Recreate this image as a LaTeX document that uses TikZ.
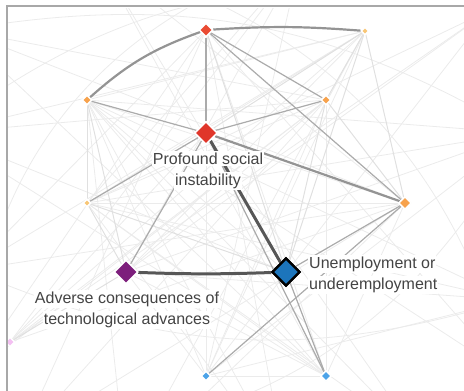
\documentclass[tikz,border=0pt]{standalone}
\usepackage{fontspec}
\setmainfont{Liberation Sans}
\usetikzlibrary{shapes.geometric}
\definecolor{redA}{HTML}{EA4B33}
\definecolor{redE}{HTML}{E0362A}
\definecolor{orng}{HTML}{F7A24C}
\definecolor{pale}{HTML}{F8C675}
\definecolor{purp}{HTML}{7D1F7C}
\definecolor{blueI}{HTML}{1C75BC}
\definecolor{blueS}{HTML}{4CA3E8}
\definecolor{pinkL}{HTML}{F4C0F2}
\definecolor{txt}{HTML}{444444}
\definecolor{frm}{HTML}{A8A8A8}
\tikzset{
  dia/.style={diamond, aspect=1, inner sep=0pt, minimum width=#1, minimum height=#1, draw=white, line width=1.4pt},
  faint/.style={draw=black!8, line width=0.8pt},
  light/.style={draw=black!12, line width=1pt},
  thinE/.style={draw=black!33, line width=1.2pt},
  midE/.style={draw=black!42, line width=2.2pt},
  darkE/.style={draw=black!66, line width=3pt},
  lbl/.style={text=txt, font=\fontsize{16}{20}\selectfont, fill=white, inner xsep=1pt, inner ysep=1.5pt},
}
\begin{document}
\begin{tikzpicture}[x=1pt,y=-1pt]
\useasboundingbox (0,0) rectangle (464,391);
% off-screen anchors of the wider network
\coordinate (o1) at (-40,30);
\coordinate (o2) at (-60,133);
\coordinate (o3) at (-30,270);
\coordinate (o4) at (20,440);
\coordinate (o5) at (126,470);
\coordinate (o6) at (286,470);
\coordinate (o7) at (420,440);
\coordinate (o8) at (510,300);
\coordinate (o9) at (520,133);
\coordinate (o10) at (490,10);
\coordinate (o11) at (300,-40);
\coordinate (o12) at (100,-40);
\coordinate (o13) at (510,376);
\coordinate (o14) at (-30,376);
% node positions
\coordinate (pA) at (206,30);
\coordinate (pB) at (365,31);
\coordinate (pC) at (87,100);
\coordinate (pD) at (326,100);
\coordinate (pE) at (206,133);
\coordinate (pF) at (87,203);
\coordinate (pG) at (405,203);
\coordinate (pH) at (126,272);
\coordinate (pI) at (286,272);
\coordinate (pJ) at (206,376);
\coordinate (pK) at (326,376);
\coordinate (pL) at (10,342);
\begin{scope}
\clip (8,8) rectangle (464,391);
% faint background web
\foreach \a/\b in {o1/pD,o1/pG,o2/pB,o2/pD,o2/pI,o3/pA,o3/pB,o3/pG,o4/pA,o4/pD,o4/pG,o5/pB,o5/pG,o5/pC,o6/pC,o6/pA,o6/pF,o7/pC,o7/pF,o7/pE,o8/pC,o8/pF,o8/pH,o9/pF,o9/pH,o9/pC,o10/pF,o10/pH,o10/pJ,o11/pF,o11/pH,o11/pJ,o12/pG,o12/pK,o12/pI,o13/pC,o13/pA,o14/pB,o14/pD,o14/pA,o1/pK,o2/pK,o8/pJ,o9/pJ,o10/pL,o11/pL,pC/pG,pC/pK,pC/pJ,pF/pD,pF/pB,pF/pK,pH/pB,pH/pD,pH/pK,pJ/pD,pJ/pB,pK/pA,pK/pG,pL/pE,pL/pG,pL/pD,pC/pB,pF/pG,pC/pI,pH/pJ,pJ/pK,pA/pJ,pE/pJ,pD/pK}
  \draw[faint] (\a) -- (\b);
\draw[faint] (o1) to[bend left=20] (o9);
\draw[faint] (o2) to[bend left=25] (o10);
\draw[faint] (o3) to[bend right=20] (o8);
\draw[faint] (o14) to[bend left=35] (o11);
\draw[faint] (o12) to[bend left=30] (o13);
\draw[faint] (o4) to[bend right=30] (o9);
% lighter network edges
\draw[light] (pB) -- (pD);
\draw[light] (pB) -- (pG);
\draw[light] (pB) -- (pI);
\draw[light] (pB) -- (pE);
\draw[light] (pC) -- (pF);
\draw[light] (pC) -- (pH);
\draw[light] (pF) -- (pH);
\draw[light] (pF) -- (pI);
\draw[light] (pD) -- (pI);
\draw[light] (pD) -- (pG);
\draw[light] (pH) -- (pL);
\draw[light] (pA) -- (pI);
\end{scope}
% nodes (named, used as connector ends)
\node[dia=10pt, fill=pinkL] (L) at (pL) {};
\node[dia=14pt, fill=redA] (A) at (pA) {};
\node[dia=8pt, fill=pale] (B) at (pB) {};
\node[dia=10pt, fill=orng] (C) at (pC) {};
\node[dia=10pt, fill=orng] (D) at (pD) {};
\node[dia=23pt, fill=redE] (E) at (pE) {};
\node[dia=8pt, fill=pale] (F) at (pF) {};
\node[dia=13pt, fill=orng] (G) at (pG) {};
\node[dia=24pt, fill=purp] (H) at (pH) {};
\node[dia=28pt, fill=blueI, draw=black, line width=2.2pt] (I) at (pI) {};
\node[dia=10pt, fill=blueS] (J) at (pJ) {};
\node[dia=11pt, fill=blueS] (K) at (pK) {};
% main connectors
\draw[thinE] (A) -- (E);
\draw[thinE] (A) -- (D);
\draw[thinE] (A) -- (G);
\draw[thinE] (C) -- (E);
\draw[thinE] (E) -- (D);
\draw[thinE] (E) -- (F);
\draw[thinE] (E) -- (H);
\draw[thinE] (I) -- (G);
\draw[thinE] (G) -- (J);
\draw[thinE] (I) -- (K);
\draw[thinE] (E) -- (K);
\draw[midE] (A) to[bend left=4] (B);
\draw[midE] (C) to[bend left=11] (A);
\draw[midE] (E) -- (G);
\draw[darkE] (E) -- (I);
\draw[darkE] (H) to[bend right=2] (I);
% labels
\node[lbl, anchor=base] (tE1) at (208,164) {Profound social};
\node[lbl, anchor=base] (tE2) at (208,185) {instability};
\node[lbl, anchor=base west] (tI1) at (308,268) {Unemployment or};
\node[lbl, anchor=base west] (tI2) at (308,289) {underemployment};
\node[lbl, anchor=base] (tH1) at (127,303) {Adverse consequences of};
\node[lbl, anchor=base] (tH2) at (127,324) {technological advances};
% redraw nodes on top of connectors
\node[dia=14pt, fill=redA] at (pA) {};
\node[dia=8pt, fill=pale] at (pB) {};
\node[dia=10pt, fill=orng] at (pC) {};
\node[dia=10pt, fill=orng] at (pD) {};
\node[dia=23pt, fill=redE] at (pE) {};
\node[dia=8pt, fill=pale] at (pF) {};
\node[dia=13pt, fill=orng] at (pG) {};
\node[dia=24pt, fill=purp] at (pH) {};
\node[dia=28pt, fill=blueI, draw=black, line width=2.2pt] at (pI) {};
\node[dia=10pt, fill=blueS] at (pJ) {};
\node[dia=11pt, fill=blueS] at (pK) {};
% frame
\draw[frm, line width=2.4pt] (7,391) -- (7,6) -- (464,6);
\end{tikzpicture}
\end{document}
